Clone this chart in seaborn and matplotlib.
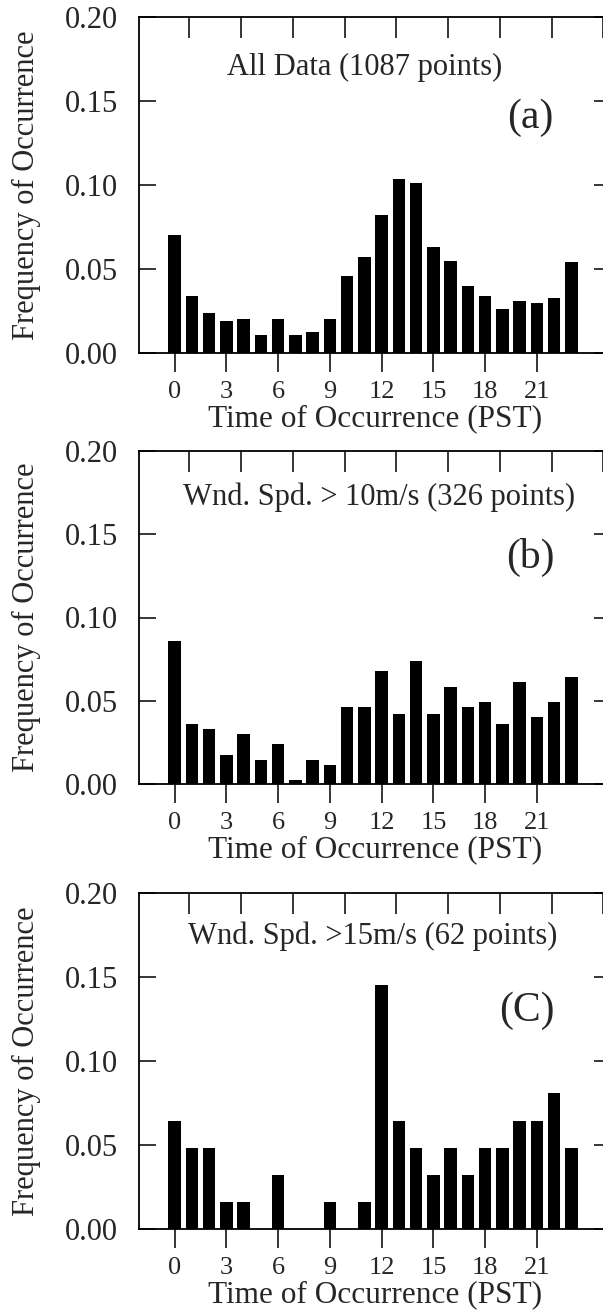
import numpy as np
import pandas as pd
import matplotlib
matplotlib.use("Agg")
import matplotlib.pyplot as plt
import seaborn as sns

hours = list(range(24))
freq_all = [0.070, 0.034, 0.024, 0.019, 0.020, 0.011, 0.020, 0.011, 0.0125, 0.0205,
            0.046, 0.057, 0.082, 0.1035, 0.101, 0.063, 0.055, 0.040, 0.034, 0.026,
            0.031, 0.0295, 0.0325, 0.054]
freq_10 = [0.086, 0.036, 0.033, 0.0175, 0.030, 0.0145, 0.024, 0.0026, 0.0145, 0.0115,
           0.046, 0.046, 0.068, 0.042, 0.074, 0.042, 0.058, 0.046, 0.049, 0.036,
           0.061, 0.040, 0.049, 0.064]
freq_15 = [0.0645, 0.048, 0.048, 0.016, 0.016, 0.0, 0.032, 0.0, 0.0, 0.016,
           0.0, 0.016, 0.145, 0.0645, 0.048, 0.032, 0.048, 0.032, 0.048, 0.048,
           0.0645, 0.0645, 0.081, 0.048]
titles = ["All Data (1087 points)", "Wnd. Spd. > 10m/s (326 points)", "Wnd. Spd. >15m/s (62 points)"]
panel_labels = ["(a)", "(b)", "(C)"]
xticks = [0, 3, 6, 9, 12, 15, 18, 21]
top_ticks = [0.85, 3.85, 6.85, 9.85, 12.85, 15.85, 18.85, 21.85, 24.85]
yticks = [0.00, 0.05, 0.10, 0.15, 0.20]
ylabels = ["0.00", "0.05", "0.10", "0.15", "0.20"]

sns.set_style("white")
plt.rcParams['font.family'] = ['Liberation Serif', 'DejaVu Serif']
plt.rcParams['axes.linewidth'] = 1.3

W, H = 603, 1312
fig = plt.figure(figsize=(W / 100, H / 100), dpi=100)

# (top, bottom) in pixels
boxes = [(17, 353), (451, 784), (893, 1229)]
left_px, right_px = 139, 611
text_pos = [(11.0, 0.170), (11.85, 0.172), (11.5, 0.174)]
lab_pos = [(20.6, 0.140), (20.6, 0.136), (20.4, 0.130)]
series = [freq_all, freq_10, freq_15]
FS = 22

for i, (top, bot) in enumerate(boxes):
    ax = fig.add_axes([left_px / W, 1 - bot / H, (right_px - left_px) / W, (bot - top) / H])
    df = pd.DataFrame({"hour": hours, "freq": series[i]})
    sns.barplot(data=df, x="hour", y="freq", native_scale=True, width=0.72,
                color="black", saturation=1, edgecolor="black", linewidth=0, ax=ax)
    ax.set_xlim(-2.07, 25.3)
    ax.set_ylim(0, 0.20)
    ax.set_xticks(xticks)
    ax.set_xticklabels([str(t) for t in xticks])
    ax.set_yticks(yticks)
    ax.set_yticklabels(ylabels)
    ax.tick_params(axis='x', direction='out', length=14, width=1.3, labelsize=19, pad=6,
                   bottom=True, top=False)
    ax.tick_params(axis='y', direction='in', length=12, width=1.3, labelsize=FS, pad=15,
                   left=True, right=True)
    sec = ax.secondary_xaxis('top')
    sec.set_xticks(top_ticks)
    sec.set_xticklabels([])
    sec.tick_params(axis='x', direction='in', length=15, width=1.3)
    for s in ax.spines.values():
        s.set_color("black")
        s.set_linewidth(1.3)
    sec.spines['top'].set_visible(False)
    ax.set_xlabel("Time of Occurrence (PST)", fontsize=22.5, labelpad=1)
    ax.set_ylabel("Frequency of Occurrence", fontsize=FS, labelpad=17)
    ax.text(text_pos[i][0], text_pos[i][1], titles[i], ha='center', va='center', fontsize=FS)
    ax.text(lab_pos[i][0], lab_pos[i][1], panel_labels[i], ha='center', va='center', fontsize=30)

fig.savefig("out.png", dpi=100)
